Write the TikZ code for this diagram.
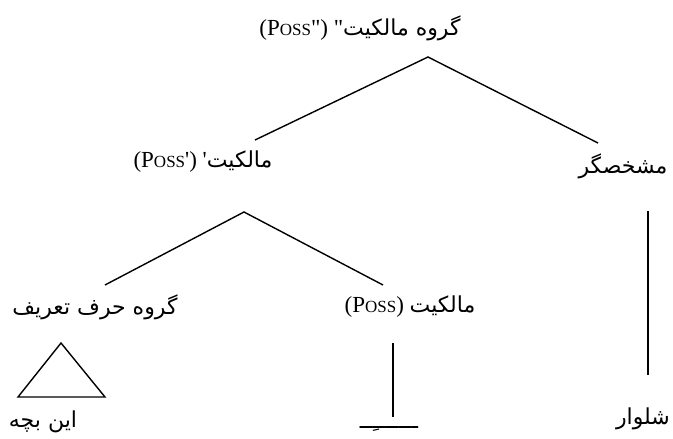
\documentclass[tikz,border=0pt]{standalone}
\usepackage{fontspec}
\setmainfont{Liberation Serif}
\newfontfamily\arabicfont[Script=Arabic]{DejaVu Sans}
\TeXXeTstate=1
\usetikzlibrary{positioning}

\newcommand\farsi[1]{{\arabicfont\fontsize{22}{24}\selectfont\beginR #1\endR}}
\newcommand\possc{P{\fontsize{17}{17}\selectfont OSS}}

\begin{document}
\begin{tikzpicture}[x=1pt, y=-1pt, line width=1.4pt,
    word/.style={inner sep=0pt, font=\fontsize{23}{25}\selectfont}]
    \useasboundingbox (0,0) rectangle (673,439);
    % Nút chữ
    \node[word] (poss2) at (360,28) {(\possc\textquotedbl) \textquotedbl\farsi{گروه مالکیت}};
    \node[word] (poss1) at (203,162) {(\possc\textquotesingle) \textquotesingle\farsi{مالکیت}};
    \node[word] (spec) at (623,166) {\farsi{مشخصگر}};
    \node[word] (dp) at (95,307) {\farsi{گروه حرف تعریف}};
    \node[word] (poss0) at (410,307) {(\possc) \farsi{مالکیت}};
    \node[word] (child) at (43,422) {\farsi{این بچه}};
    \node[word] (pants) at (643,419) {\farsi{شلوار}};
    \node[word] (ezafe) at (389,429) {\farsi{ـــــــِــ}};
    % Điểm nối
    \coordinate (top) at (428,57);
    \coordinate (l1) at (255,140);
    \coordinate (r1) at (598,143);
    \coordinate (mid) at (244,212);
    \coordinate (l2) at (105,285);
    \coordinate (r2) at (383,285);
    \coordinate (tri) at (61,343);
    \coordinate (triL) at (18,397);
    \coordinate (triR) at (105,397);
    \coordinate (v1a) at (393,343);
    \coordinate (v1b) at (393,417);
    \coordinate (v2a) at (648,211);
    \coordinate (v2b) at (648,375);
    % Nhánh cây
    \draw (l1) -- (top) -- (r1);
    \draw (l2) -- (mid) -- (r2);
    \draw (tri) -- (triL) -- (triR) -- cycle;
    \draw (v1a) -- (v1b);
    \draw (v2a) -- (v2b);
\end{tikzpicture}
\end{document}
